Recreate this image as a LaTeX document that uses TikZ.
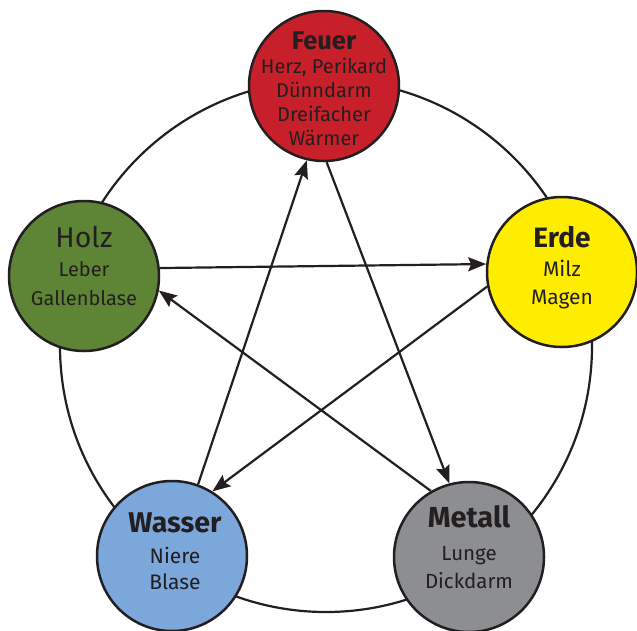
\documentclass[tikz,border=0pt]{standalone}
\usepackage{fontspec}
\setmainfont{Fira Sans}
\usetikzlibrary{arrows.meta}
\definecolor{ink}{HTML}{231F20}
\definecolor{cfeuer}{HTML}{C8202A}
\definecolor{cholz}{HTML}{5E8436}
\definecolor{cerde}{HTML}{FFED00}
\definecolor{cwasser}{HTML}{7BA7DA}
\definecolor{cmetall}{HTML}{8D8E91}
\tikzset{
  element/.style={circle, draw=ink, line width=2.5pt, minimum size=150pt, inner sep=0pt},
  txt/.style={anchor=base, inner sep=0pt, text=ink},
  conn/.style={draw=ink, line width=2.2pt, -{Stealth[length=18pt,width=14pt,inset=3pt]}},
  ring/.style={draw=ink, line width=2.2pt}
}
\begin{document}
\begin{tikzpicture}[x=1pt,y=-1pt]
\useasboundingbox (0,0) rectangle (637,630);
\coordinate (ringc) at (326,346);
\draw[ring] (ringc) circle[radius=266pt];
\node[element, fill=cfeuer] (feuer) at (324,86) {};
\node[element, fill=cholz] (holz) at (84,276) {};
\node[element, fill=cerde] (erde) at (562,272) {};
\node[element, fill=cwasser] (wasser) at (172,556) {};
\node[element, fill=cmetall] (metall) at (469,557) {};
% texts
\node[txt, font=\fontsize{25.5}{28}\selectfont\bfseries] (f0) at (324,49) {Feuer};
\node[txt, font=\fontsize{20}{22}\selectfont] (f1) at (324,73) {Herz, Perikard};
\node[txt, font=\fontsize{20}{22}\selectfont] (f2) at (324,97) {Dünndarm};
\node[txt, font=\fontsize{20}{22}\selectfont] (f3) at (324,121) {Dreifacher};
\node[txt, font=\fontsize{20}{22}\selectfont] (f4) at (324,145) {Wärmer};
\node[txt, font=\fontsize{28.5}{30}\selectfont] (h0) at (84,247) {Holz};
\node[txt, font=\fontsize{20}{22}\selectfont] (h1) at (84,276) {Leber};
\node[txt, font=\fontsize{20}{22}\selectfont] (h2) at (84,305) {Gallenblase};
\node[txt, font=\fontsize{28}{30}\selectfont\bfseries] (e0) at (562,247) {Erde};
\node[txt, font=\fontsize{21}{24}\selectfont] (e1) at (562,276) {Milz};
\node[txt, font=\fontsize{21}{24}\selectfont] (e2) at (562,304) {Magen};
\node[txt, font=\fontsize{28.5}{30}\selectfont\bfseries] (w0) at (175,532) {Wasser};
\node[txt, font=\fontsize{21}{24}\selectfont] (w1) at (175,563) {Niere};
\node[txt, font=\fontsize{21}{24}\selectfont] (w2) at (175,589) {Blase};
\node[txt, font=\fontsize{29}{30}\selectfont\bfseries] (m0) at (469,527) {Metall};
\node[txt, font=\fontsize{20.5}{24}\selectfont] (m1) at (469,560) {Lunge};
\node[txt, font=\fontsize{20.5}{24}\selectfont] (m2) at (469,588) {Dickdarm};
% connectors
\draw[conn] (holz.6) -- (erde.174);
\draw[conn] (erde.191) -- (wasser.58);
\draw[conn] (wasser.70.6) -- (feuer.257.5);
\draw[conn] (feuer.-88) -- (metall.105);
\draw[conn] (metall.120) -- (holz.-11.5);
\end{tikzpicture}
\end{document}
